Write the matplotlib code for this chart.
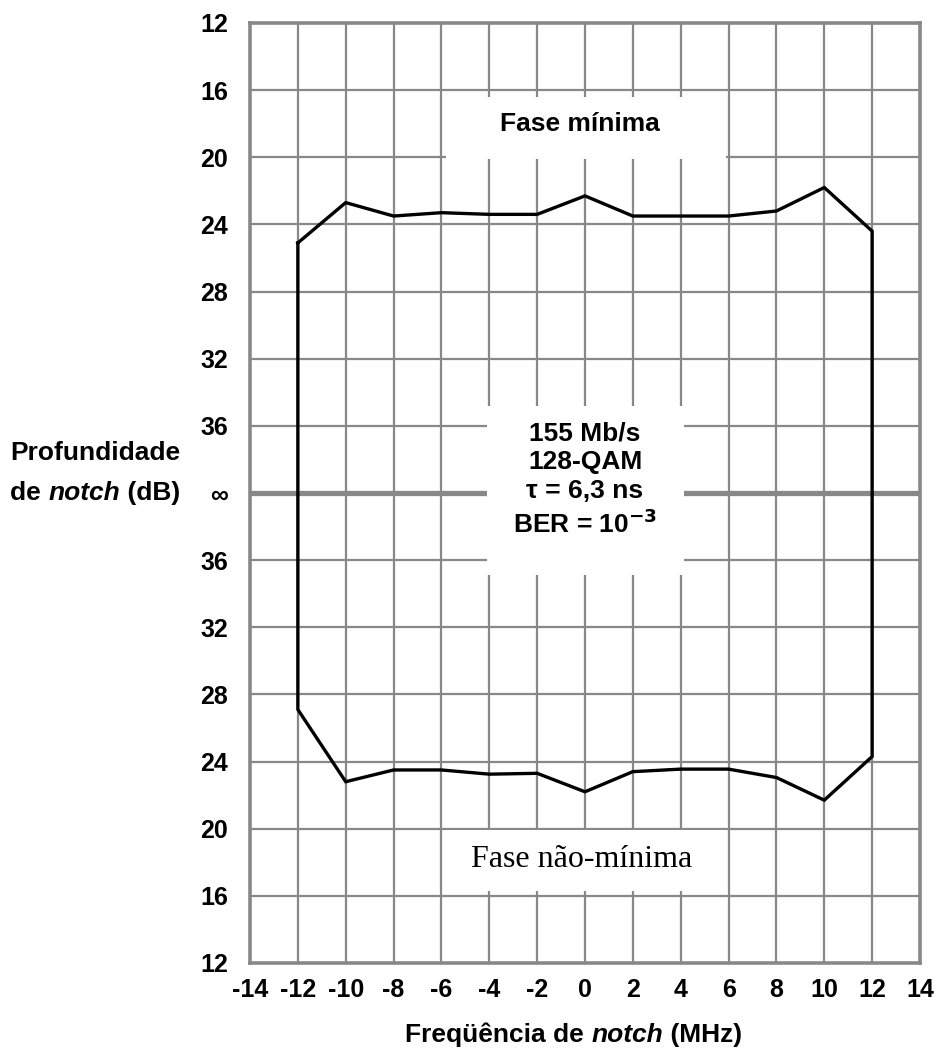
import matplotlib
matplotlib.use("Agg")
import matplotlib.pyplot as plt
from matplotlib.patches import Rectangle
from matplotlib.offsetbox import TextArea, HPacker, VPacker, AnchoredOffsetbox

plt.rcParams['font.family'] = ['Liberation Sans', 'DejaVu Sans']

# notch frequency (MHz) and notch depth (dB)
freq = [-12, -10, -8, -6, -4, -2, 0, 2, 4, 6, 8, 10, 12]
depth_min = [25.1, 22.7, 23.5, 23.3, 23.4, 23.4, 22.3, 23.5, 23.5, 23.5, 23.2, 21.8, 24.4]
depth_nonmin = [27.1, 22.8, 23.5, 23.5, 23.25, 23.3, 22.2, 23.4, 23.55, 23.55, 23.05, 21.7, 24.3]

x_ticks = list(range(-14, 15, 2))
depth_ticks = [12, 16, 20, 24, 28, 32, 36]
INF = 40  # "infinite" depth sits in the middle of the axis


# upper half (minimum phase) goes up from the infinity line, lower half goes down
def up(v):
    return INF - v


def down(v):
    return v - INF


GRID = '#888888'

fig = plt.figure(figsize=(9.45, 10.53), dpi=100)
ax = fig.add_axes([250 / 945, 1 - 963 / 1053, 670 / 945, 940 / 1053])
ax.set_xlim(-14, 14)
ax.set_ylim(-28, 28)

for xv in x_ticks[1:-1]:
    ax.axvline(xv, color=GRID, lw=1.6, zorder=1)
for d in depth_ticks[1:]:
    ax.axhline(up(d), color=GRID, lw=1.6, zorder=1)
    ax.axhline(down(d), color=GRID, lw=1.6, zorder=1)
ax.axhline(0, color=GRID, lw=3.8, zorder=1)

for s in ax.spines.values():
    s.set_color(GRID)
    s.set_linewidth(2.6)

# white patches behind the annotations
ax.add_patch(Rectangle((-5.8, 19.9), 11.7, 3.7, facecolor='white', edgecolor='none', zorder=2))
ax.add_patch(Rectangle((-4.1, -4.9), 8.25, 10.1, facecolor='white', edgecolor='none', zorder=2))
ax.add_patch(Rectangle((-5.8, -23.7), 11.7, 3.6, facecolor='white', edgecolor='none', zorder=2))

# closed contour: minimum phase left->right, then non-minimum phase right->left
xs = freq + freq[::-1] + [freq[0]]
ys = [up(v) for v in depth_min] + [down(v) for v in depth_nonmin[::-1]] + [up(depth_min[0])]
ax.plot(xs, ys, color='black', lw=2.4, zorder=3, solid_joinstyle='miter')

ax.set_xticks(x_ticks)
ax.set_xticklabels([str(v) for v in x_ticks])
ypos = [up(d) for d in depth_ticks] + [0] + [down(d) for d in depth_ticks[::-1]]
ylab = [str(d) for d in depth_ticks] + ['\u221e'] + [str(d) for d in depth_ticks[::-1]]
ax.set_yticks(ypos)
ax.set_yticklabels(ylab)
ax.tick_params(axis='both', length=0, labelsize=18)
ax.tick_params(axis='x', pad=11)
ax.tick_params(axis='y', pad=16)
for t in ax.get_xticklabels() + ax.get_yticklabels():
    t.set_fontweight('bold')

ax.text(-0.2, 22.0, 'Fase mínima', ha='center', va='center', fontsize=19,
        fontweight='bold', zorder=4)
ax.text(0, 0.8, '155 Mb/s\n128-QAM\n\u03c4 = 6,3 ns\nBER = 10$^{\\mathbf{-3}}$',
        ha='center', va='center', fontsize=19, fontweight='bold',
        linespacing=1.25, zorder=4)
ax.text(-0.15, -21.85, 'Fase não-mínima', ha='center', va='center', fontsize=23,
        family='Liberation Serif', zorder=4)

b = dict(fontsize=19, fontweight='bold')
bi = dict(fontsize=19, fontweight='bold', style='italic')

xl = HPacker(children=[TextArea('Freqüência de ', textprops=b),
                       TextArea('notch', textprops=bi),
                       TextArea(' (MHz)', textprops=b)], sep=0, pad=0, align='baseline')
fig.add_artist(AnchoredOffsetbox(loc='center', child=xl, frameon=False, pad=0, borderpad=0,
                                 bbox_to_anchor=(574 / 945, 1 - 1035 / 1053),
                                 bbox_transform=fig.transFigure))

yl = VPacker(children=[TextArea('Profundidade', textprops=b),
                       HPacker(children=[TextArea('de ', textprops=b),
                                         TextArea('notch', textprops=bi),
                                         TextArea(' (dB)', textprops=b)],
                               sep=0, pad=0, align='baseline')],
             sep=12, pad=0, align='left')
fig.add_artist(AnchoredOffsetbox(loc='center left', child=yl, frameon=False, pad=0, borderpad=0,
                                 bbox_to_anchor=(10 / 945, 1 - 473 / 1053),
                                 bbox_transform=fig.transFigure))

fig.savefig('out.png', dpi=100)
